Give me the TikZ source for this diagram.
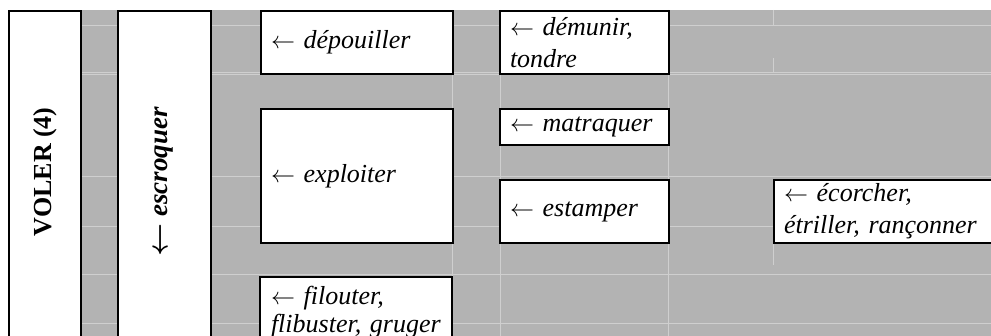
\documentclass[tikz,border=0pt]{standalone}
\usepackage{fontspec}
\setmainfont{Liberation Serif}
\definecolor{cellgray}{HTML}{B3B3B3}
\definecolor{gridline}{HTML}{CFCFCF}
\newcommand{\larr}{\(\leftarrow\)\ }
\begin{document}
\begin{tikzpicture}[x=0.5pt,y=-0.5pt,
  box/.style={draw=black, line width=1pt, fill=white, inner xsep=5pt, inner ysep=0pt,
    anchor=north west, align=left, font=\fontsize{13}{16}\selectfont\itshape},
  colbox/.style={draw=black, line width=1pt, fill=white, inner sep=0pt, anchor=north west},
  vtext/.style={rotate=90, anchor=east, inner sep=0pt, font=\fontsize{13}{16}\selectfont\bfseries},
  faint/.style={draw=gridline, line width=0.5pt}]
\useasboundingbox (0,0) rectangle (991,336);
% gray table background
\fill[cellgray] (8,10) rectangle (1000,345);
% faint cell borders
\foreach \y in {26,73,75,177,227,275,324} \draw[faint] (80,\y) -- (991,\y);
\foreach \x in {452,500,668} \draw[faint] (\x,10) -- (\x,336);
\draw[faint] (773,10) -- (773,26);
\draw[faint] (773,58) -- (773,73);
\draw[faint] (773,227) -- (773,265);
% left columns
\node[colbox, minimum width=36pt, minimum height=170pt] (voler) at (8,10) {};
\node[vtext] (volert) at (45,107) {VOLER (4)};
\node[colbox, minimum width=46.5pt, minimum height=170pt] (escr) at (117,10) {};
\node[vtext, font=\fontsize{13.5}{16}\selectfont\bfseries\itshape\mathversion{bold}] (escrt) at (164,107) {\(\leftarrow\)\ escroquer};
% column 2
\node[box, text width=86pt, minimum height=31.5pt] (depouiller) at (260,10) {\mbox{\larr dépouiller}};
\node[box, text width=86pt, minimum height=67pt] (exploiter) at (260,108) {\mbox{\larr exploiter}};
\draw[draw=black, line width=1pt, fill=white] (260,277) rectangle (452,350);
\node[box, draw=none, fill=none, text width=86pt, anchor=base west, inner ysep=0pt] (filouter) at (260,305) {\mbox{\larr filouter,}\\[-2pt]\mbox{flibuster, gruger}};
% column 3
\node[box, text width=74.5pt, minimum height=31.5pt] (demunir) at (499,10) {\mbox{\larr démunir,}\\\mbox{tondre}};
\node[box, text width=74.5pt, minimum height=18pt] (matraquer) at (499,108) {\mbox{\larr matraquer}};
\node[box, text width=74.5pt, minimum height=31.5pt] (estamper) at (499,179) {\mbox{\larr estamper}};
% column 4
\node[box, text width=103.5pt, minimum height=31.5pt] (ecorcher) at (773,179) {\mbox{\larr écorcher,}\\\mbox{étriller, rançonner}};
\end{tikzpicture}
\end{document}
